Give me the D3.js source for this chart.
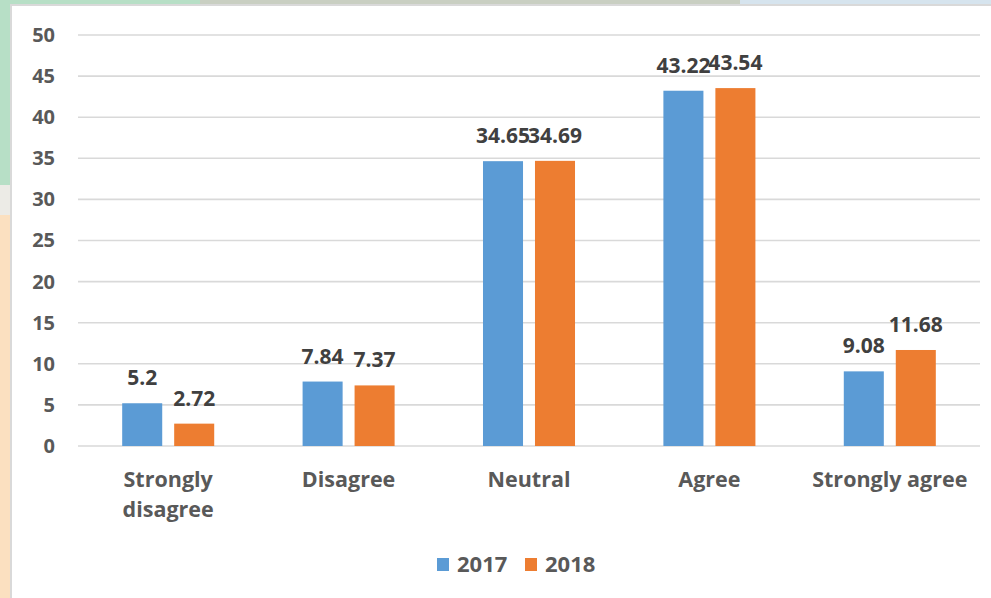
<!DOCTYPE html>
<html>
<head>
<meta charset="utf-8">
<script src="https://cdn.jsdelivr.net/npm/d3@7"></script>
<style>
  html, body { margin: 0; padding: 0; background: #ffffff; }
  svg { display: block; }
  text { font-family: "Open Sans", "DejaVu Sans", sans-serif; font-weight: 700; }
</style>
</head>
<body>
<svg id="chart" width="991" height="598"></svg>
<script>
// Survey responses by year (percent)
const categories = ["Strongly disagree", "Disagree", "Neutral", "Agree", "Strongly agree"];
const series2017 = [5.2, 7.84, 34.65, 43.22, 9.08];
const series2018 = [2.72, 7.37, 34.69, 43.54, 11.68];
const seriesNames = ["2017", "2018"];
const yTicks = [0, 5, 10, 15, 20, 25, 30, 35, 40, 45, 50];

const colors = { "2017": "#5b9bd5", "2018": "#ed7d31" };
const seriesValues = { "2017": series2017, "2018": series2018 };

const svg = d3.select("#chart");

// Backdrop surrounding the chart panel
svg.append("rect").attr("x", 0).attr("y", 0).attr("width", 991).attr("height", 6).attr("fill", "#dfe6e4");
svg.append("rect").attr("x", 0).attr("y", 0).attr("width", 200).attr("height", 6).attr("fill", "#b7dfc6");
svg.append("rect").attr("x", 200).attr("y", 0).attr("width", 540).attr("height", 6).attr("fill", "#c9cfc2");
svg.append("rect").attr("x", 740).attr("y", 0).attr("width", 251).attr("height", 6).attr("fill", "#d6e4ee");
svg.append("rect").attr("x", 0).attr("y", 0).attr("width", 12).attr("height", 185).attr("fill", "#b7dfc6");
svg.append("rect").attr("x", 0).attr("y", 185).attr("width", 12).attr("height", 30).attr("fill", "#ecebe6");
svg.append("rect").attr("x", 0).attr("y", 215).attr("width", 12).attr("height", 383).attr("fill", "#fbe0c0");

// Chart panel with thin border
svg.append("rect").attr("x", 11).attr("y", 5).attr("width", 985).attr("height", 600)
  .attr("fill", "#ffffff").attr("stroke", "#d9d9d9").attr("stroke-width", 2);

const plot = { left: 78, right: 980, top: 35, bottom: 446 };

const x0 = d3.scaleBand().domain(categories).range([plot.left, plot.right]).paddingInner(0).paddingOuter(0);
const x1 = d3.scaleBand().domain(seriesNames).range([0, x0.bandwidth()]).paddingInner(0.23).paddingOuter(0.85);
const y = d3.scaleLinear().domain([0, 50]).range([plot.bottom, plot.top]);

// Horizontal gridlines
svg.append("g").selectAll("line").data(yTicks).join("line")
  .attr("x1", plot.left).attr("x2", plot.right)
  .attr("y1", d => y(d)).attr("y2", d => y(d))
  .attr("stroke", "#d9d9d9").attr("stroke-width", 1.6);

// Y axis labels
const yAxis = d3.axisLeft(y).tickValues(yTicks).tickSize(0).tickPadding(0);
const gy = svg.append("g").attr("transform", `translate(55,0)`).call(yAxis);
gy.select(".domain").remove();
gy.selectAll("text").attr("font-size", 20).attr("fill", "#595959")
  .style("font-family", "'Open Sans', sans-serif").style("font-weight", 700);

// Bars
const groups = svg.append("g").selectAll("g").data(categories).join("g")
  .attr("transform", d => `translate(${x0(d)},0)`);

groups.selectAll("rect").data((c, i) => seriesNames.map(s => ({ s, v: seriesValues[s][i] })))
  .join("rect")
  .attr("x", d => x1(d.s))
  .attr("width", x1.bandwidth())
  .attr("y", d => y(d.v))
  .attr("height", d => y(0) - y(d.v))
  .attr("fill", d => colors[d.s]);

// Value labels
groups.selectAll("text.val").data((c, i) => seriesNames.map(s => ({ s, v: seriesValues[s][i] })))
  .join("text")
  .attr("class", "val")
  .attr("x", d => x1(d.s) + x1.bandwidth() / 2)
  .attr("y", d => y(d.v) - 18)
  .attr("text-anchor", "middle")
  .attr("font-size", 21)
  .attr("fill", "#404040")
  .text(d => String(d.v));

// Category labels (wrapped within the band)
const catLines = {
  "Strongly disagree": ["Strongly", "disagree"],
  "Disagree": ["Disagree"],
  "Neutral": ["Neutral"],
  "Agree": ["Agree"],
  "Strongly agree": ["Strongly agree"]
};
svg.append("g").selectAll("text").data(categories).join("text")
  .attr("x", d => x0(d) + x0.bandwidth() / 2)
  .attr("y", 487)
  .attr("text-anchor", "middle")
  .attr("font-size", 21.5)
  .attr("fill", "#595959")
  .each(function(d) {
    const t = d3.select(this);
    catLines[d].forEach((line, i) => {
      t.append("tspan").attr("x", x0(d) + x0.bandwidth() / 2).attr("dy", i === 0 ? 0 : 30).text(line);
    });
  });

// Legend
const legendX = [437, 525];
const legend = svg.append("g").selectAll("g").data(seriesNames).join("g")
  .attr("transform", (d, i) => `translate(${legendX[i]},558)`);
legend.append("rect").attr("width", 12).attr("height", 13).attr("fill", d => colors[d]);
legend.append("text").attr("x", 20).attr("y", 14).attr("font-size", 22).attr("fill", "#595959").text(d => d);
</script>
</body>
</html>
